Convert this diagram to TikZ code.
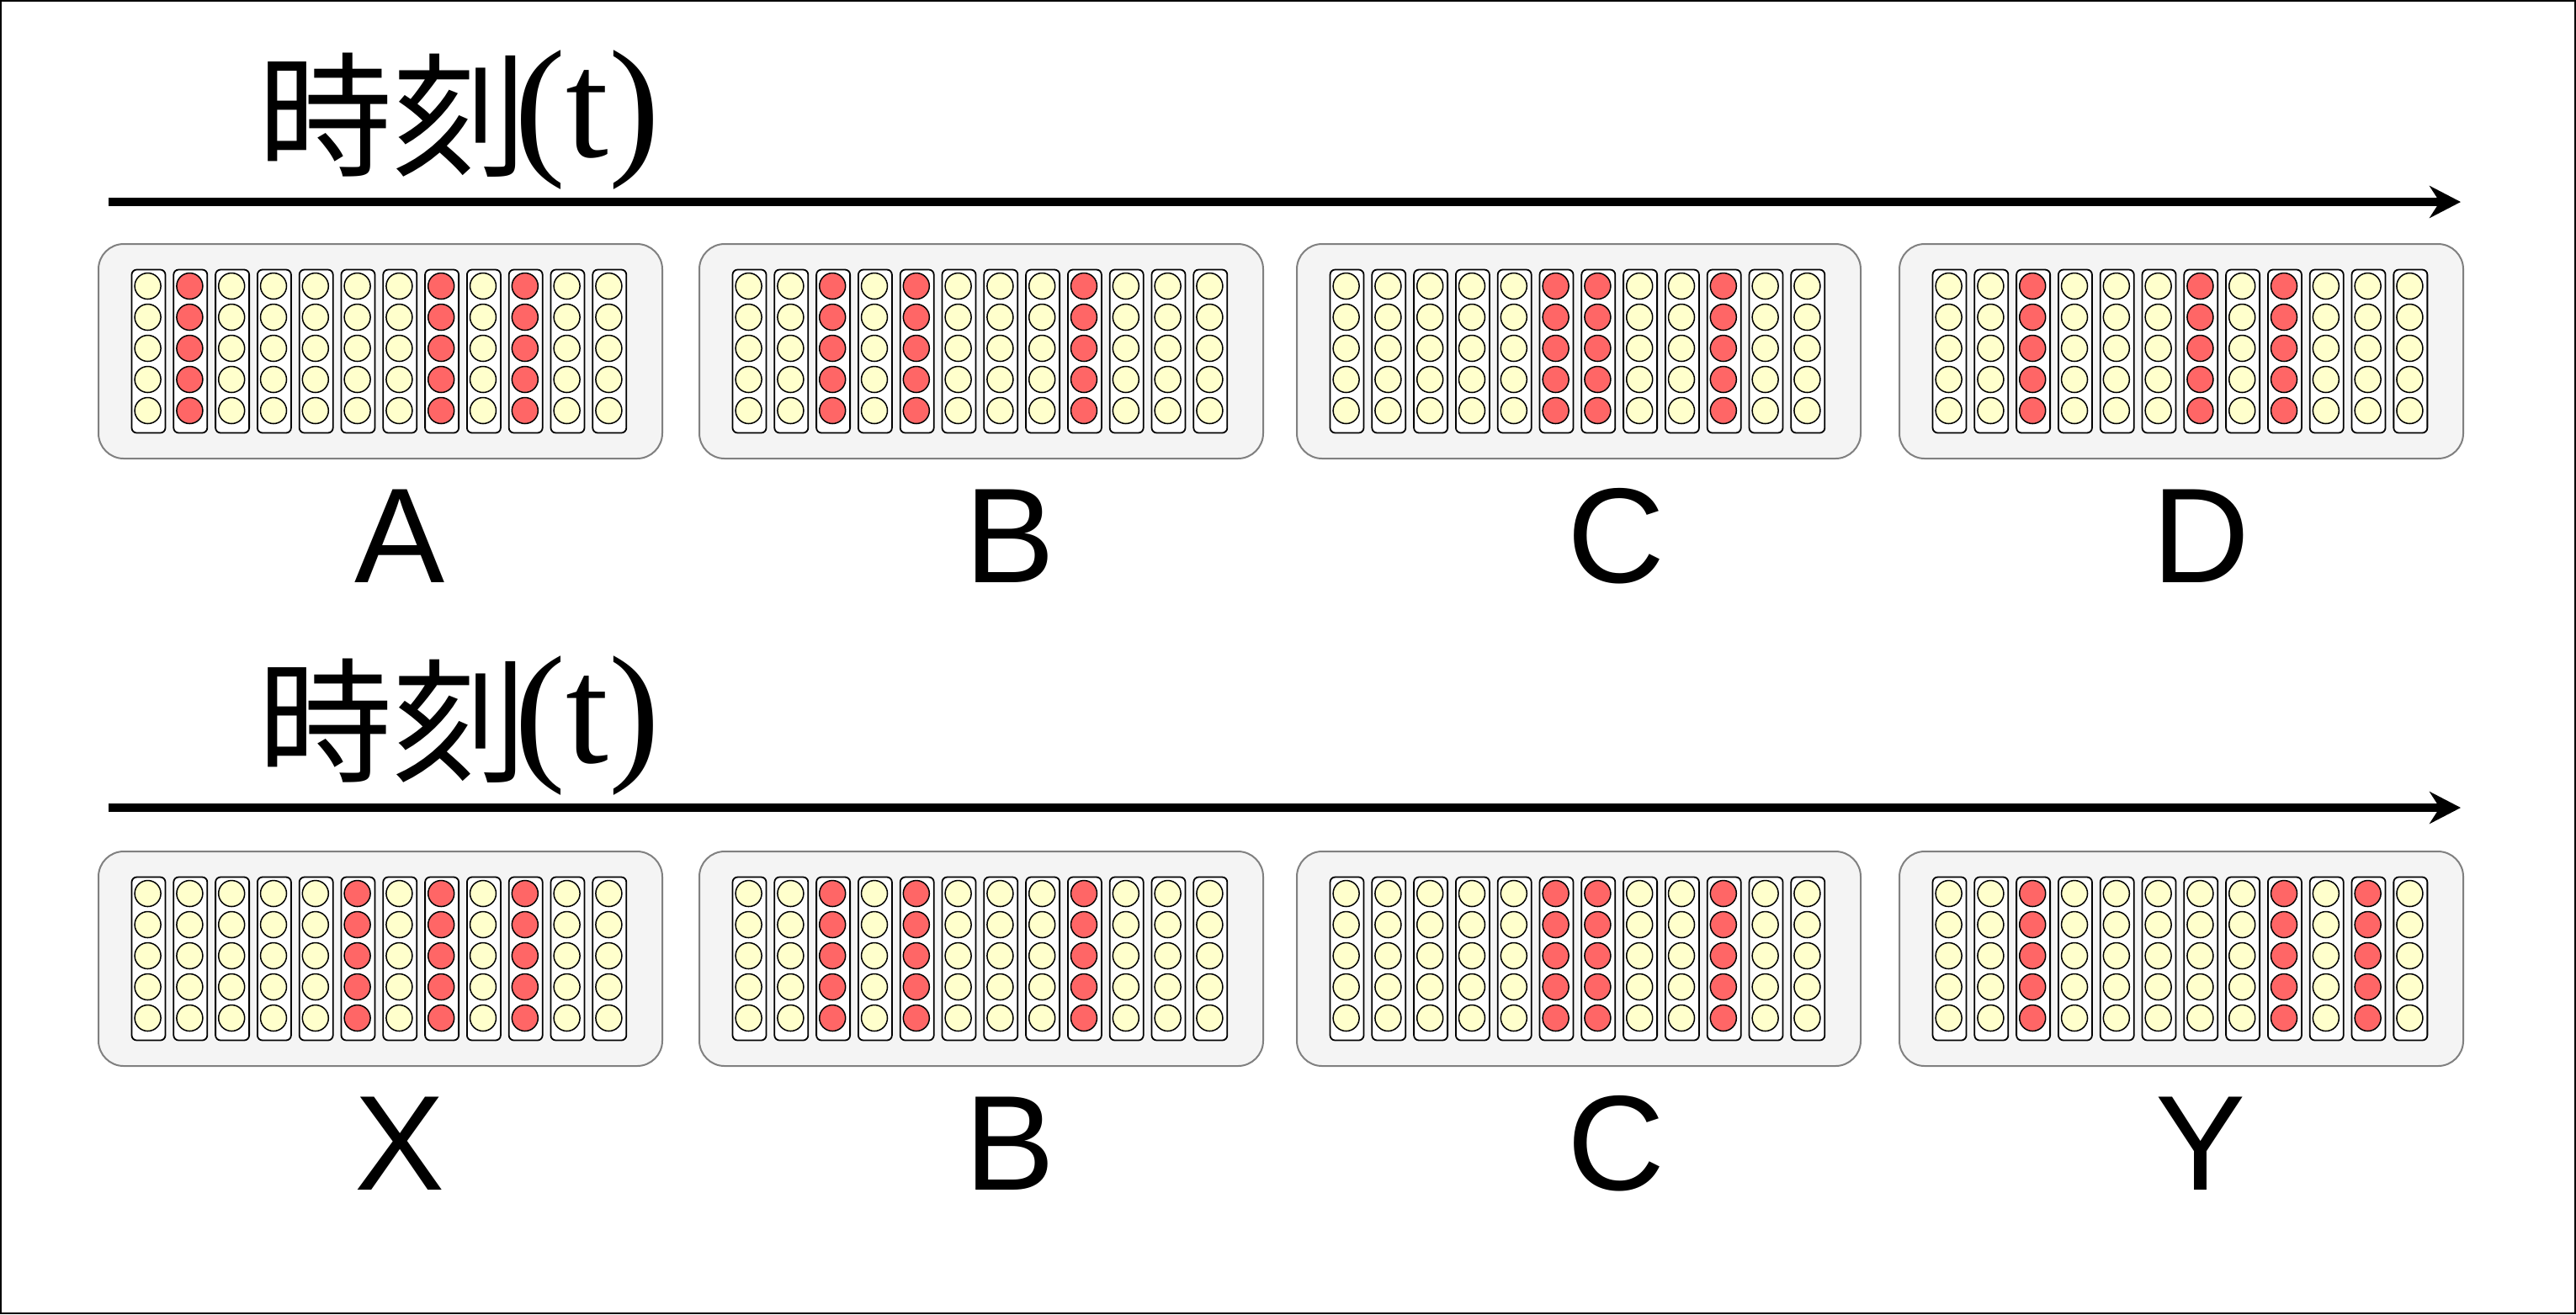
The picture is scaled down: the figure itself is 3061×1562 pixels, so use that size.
\documentclass[tikz,border=0pt]{standalone}
\usepackage{fontspec}
\setmainfont{Liberation Serif}
\newfontfamily\cjkfont{Noto Sans CJK JP}
\newfontfamily\labfont{Liberation Sans}
\usetikzlibrary{arrows.meta}
\definecolor{panelfill}{HTML}{F4F4F4}
\definecolor{panelline}{HTML}{808080}
\definecolor{offfill}{HTML}{FFFFCC}
\definecolor{onfill}{HTML}{FF6666}
\tikzset{
  panelbox/.style={draw=panelline, fill=panelfill, line width=0.2mm, rounded corners=3mm,
    minimum width=67mm, minimum height=25.5mm, inner sep=0, anchor=north west},
  colbox/.style={draw=black, fill=white, line width=0.18mm, rounded corners=0.6mm,
    minimum width=4mm, minimum height=19.4mm, inner sep=0, anchor=north west},
  dotoff/.style={circle, draw=black, fill=offfill, line width=0.15mm, minimum size=3.1mm, inner sep=0},
  doton/.style={circle, draw=black, fill=onfill, line width=0.15mm, minimum size=3.1mm, inner sep=0},
  biglabel/.style={font=\labfont\fontsize{45.7}{55}\selectfont, inner sep=0, anchor=base},
  timetitle/.style={inner sep=0, anchor=base west},
  timearrow/.style={line width=1mm, -{Stealth[length=3.7mm,width=3.8mm,inset=1.2mm]}}
}
\newcommand\timetext{{\cjkfont\fontsize{45.5}{52}\selectfont 時刻}\kern-1.5mm\raisebox{1.1mm}{\fontsize{52}{62}\selectfont(t)}}
\begin{document}
\begin{tikzpicture}[x=0.1mm,y=-0.1mm]
\useasboundingbox (0,0) rectangle (3061,1562);
\draw[line width=0.2mm] (1,1) rectangle (3060,1561);

% titles and arrows
\node[timetitle] (t1) at (306,197) {\timetext};
\node[timetitle] (t2) at (306,917) {\timetext};
\coordinate (a1s) at (129,240);
\coordinate (a1e) at (2924,240);
\coordinate (a2s) at (129,960);
\coordinate (a2e) at (2924,960);
\draw[timearrow] (a1s) -- (a1e);
\draw[timearrow] (a2s) -- (a2e);

% panels
\foreach \nm/\px/\py/\ra/\rb/\rc/\lx/\txt in {
  A/116/289/2/8/10/475/A, B/830/289/3/5/9/1200/B, C/1540/289/6/7/10/1920/C, D/2256/289/3/7/9/2615/D,
  X/116/1011/6/8/10/475/X, B2/830/1011/3/5/9/1200/B, C2/1540/1011/6/7/10/1920/C, Y/2256/1011/3/9/11/2615/Y}{
  \node[panelbox] (p-\nm) at (\px,\py) {};
  \foreach \i in {1,...,12}{
    \pgfmathtruncatemacro\isred{(\i==\ra)||(\i==\rb)||(\i==\rc)}
    \node[colbox] (c-\nm-\i) at ({\px+39.6+49.8*(\i-1)},{\py+30.6}) {};
    \foreach \j in {1,...,5}{
      \ifnum\isred=1
        \node[doton] (d-\nm-\i-\j) at ({\px+59.6+49.8*(\i-1)},{\py+51+37*(\j-1)}) {};
      \else
        \node[dotoff] (d-\nm-\i-\j) at ({\px+59.6+49.8*(\i-1)},{\py+51+37*(\j-1)}) {};
      \fi
    }
  }
  \node[biglabel] (l-\nm) at (\lx,{\py+403}) {\txt};
}
\end{tikzpicture}
\end{document}
